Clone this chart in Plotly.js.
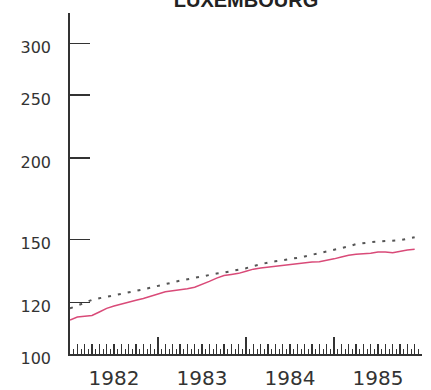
<!DOCTYPE html>
<html>
<head>
<meta charset="utf-8">
<script src="https://cdn.plot.ly/plotly-3.0.1.min.js"></script>
<style>html,body{margin:0;padding:0;background:#fff;}#chart{width:431px;height:390px;}</style>
</head>
<body>
<div id="chart"></div>
<script>
// Years shown on the x axis (monthly observations, Jan 1982 – Dec 1985)
var years = [1982, 1983, 1984, 1985];
var yTickValues = [100, 120, 150, 200, 250, 300];
var title = "LUXEMBOURG";

// Solid (pink) series, monthly
var solidSeries = [
  112.8, 114.0, 114.3, 114.6, 116.0, 117.5, 118.5, 119.4, 120.1, 120.9, 121.7, 122.6,
  123.6, 124.6, 125.1, 125.4, 126.0, 126.6, 127.8, 129.3, 130.8, 132.0, 132.5, 133.0,
  134.0, 135.0, 135.6, 136.0, 136.5, 136.9, 137.3, 137.9, 138.1, 138.4, 138.6, 139.2,
  140.0, 140.9, 141.8, 142.3, 142.5, 142.8, 143.4, 143.5, 143.1, 143.9, 144.4, 144.8
];
// Dotted (dark grey) series, monthly
var dottedSeries = [
  117.5, 118.8, 120.0, 121.1, 121.8, 122.5, 123.2, 123.8, 124.4, 125.0, 125.7, 126.4,
  127.1, 127.9, 128.8, 129.6, 130.3, 131.1, 131.8, 132.5, 132.9, 133.4, 134.0, 134.5,
  135.4, 136.5, 137.4, 138.2, 138.8, 139.3, 139.9, 140.5, 141.2, 142.0, 142.9, 143.6,
  144.3, 145.2, 146.3, 147.5, 148.1, 148.5, 148.8, 149.0, 149.3, 149.6, 150.3, 151.1
];

// month index (0 = Jan 1982)
var xMonths = solidSeries.map(function (_, i) { return i; });
var yearStarts = years.map(function (_, k) { return k * 12; });

var ink = '#333333';
var traces = [
  { x: xMonths, y: solidSeries, type: 'scatter', mode: 'lines', xaxis: 'x', yaxis: 'y',
    line: { color: '#d94a78', width: 1.5 }, hoverinfo: 'skip' },
  { x: xMonths, y: dottedSeries, type: 'scatter', mode: 'lines', xaxis: 'x2', yaxis: 'y',
    line: { color: '#555555', width: 2, dash: '3px,7px' }, hoverinfo: 'skip' }
];

var xr = [0, years.length * 12];
var layout = {
  width: 431, height: 390,
  margin: { l: 70, r: 9, t: 13, b: 36 },
  paper_bgcolor: '#ffffff', plot_bgcolor: '#ffffff',
  showlegend: false,
  title: { text: title, font: { family: 'Liberation Sans, Arial, sans-serif', size: 20, color: '#222', weight: 'bold' },
           x: 0.5, xref: 'paper', y: 1, yref: 'container', yanchor: 'middle' },
  xaxis: {
    type: 'linear', range: xr, showgrid: false, zeroline: false,
    showline: true, linecolor: ink, linewidth: 1.5,
    tickmode: 'linear', tick0: 0, dtick: 1,
    ticks: 'inside', ticklen: 10, tickwidth: 1.2, tickcolor: ink,
    minor: { tick0: 0, dtick: 0.5, ticks: 'inside', ticklen: 5, tickwidth: 1, tickcolor: ink },
    showticklabels: false
  },
  xaxis2: {
    type: 'linear', range: xr, overlaying: 'x', anchor: 'y', side: 'bottom',
    showgrid: false, zeroline: false, showline: false,
    tickmode: 'array', tickvals: yearStarts, ticktext: years.map(String),
    ticks: 'inside', ticklen: 17, tickwidth: 1.2, tickcolor: ink,
    ticklabelshift: 44, ticklabelstandoff: 10,
    tickfont: { family: 'DejaVu Sans, sans-serif', size: 20, color: ink }
  },
  yaxis: {
    type: 'log', range: [2, Math.log10(334)], showgrid: false, zeroline: false,
    showline: true, linecolor: ink, linewidth: 1.8,
    tickmode: 'array', tickvals: yTickValues, ticktext: yTickValues.map(String),
    ticks: 'inside', ticklen: 20, tickwidth: 1.3, tickcolor: ink,
    ticklabelstandoff: 14, ticklabelshift: 4,
    tickfont: { family: 'DejaVu Sans, sans-serif', size: 16, color: ink }
  }
};

Plotly.newPlot('chart', traces, layout, { staticPlot: true, displayModeBar: false });
</script>
</body>
</html>
